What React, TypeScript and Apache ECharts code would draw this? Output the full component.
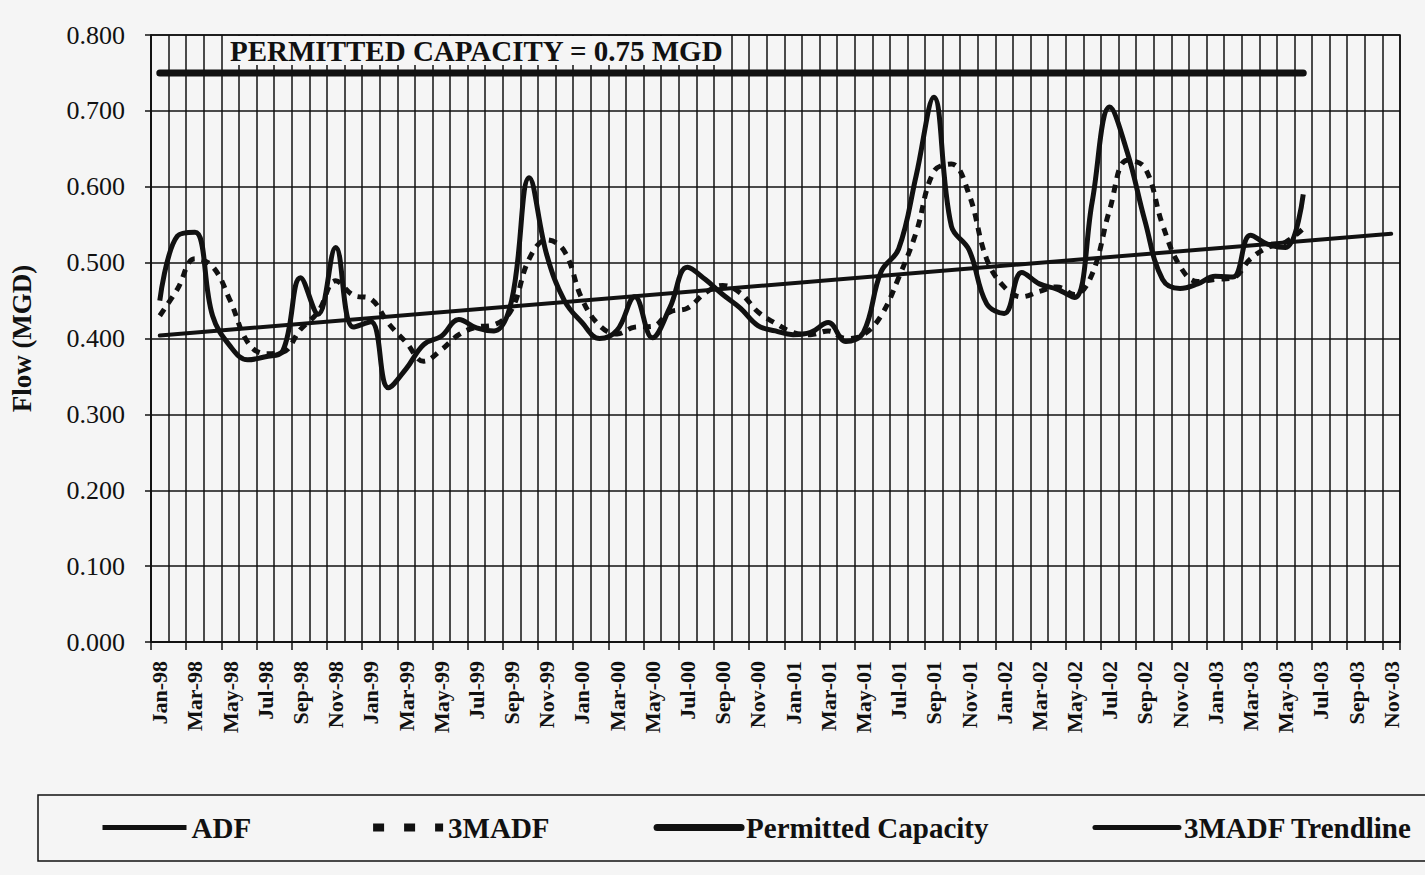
import React, { useEffect, useRef } from "react";
import * as echarts from "echarts";

const MONTH_NAMES = ["Jan", "Feb", "Mar", "Apr", "May", "Jun", "Jul", "Aug", "Sep", "Oct", "Nov", "Dec"];
const YEARS = ["98", "99", "00", "01", "02", "03"];
const categories: string[] = YEARS.flatMap((y) => MONTH_NAMES.map((m) => `${m}-${y}`)).slice(0, 71);

const adf = [
  0.45, 0.535, 0.54, 0.43, 0.39, 0.372, 0.376, 0.384, 0.48, 0.432, 0.52, 0.415,
  0.422, 0.335, 0.36, 0.392, 0.403, 0.425, 0.414, 0.41, 0.45, 0.612, 0.51, 0.45,
  0.421, 0.4, 0.411, 0.455, 0.401, 0.441, 0.494, 0.478, 0.458, 0.44, 0.417, 0.41,
  0.405, 0.408, 0.421, 0.396, 0.408, 0.488, 0.518, 0.615, 0.718, 0.548, 0.517, 0.446,
  0.433, 0.487, 0.472, 0.465, 0.454, 0.58, 0.705, 0.645, 0.555, 0.478, 0.466, 0.472,
  0.482, 0.481, 0.536, 0.524, 0.52, 0.59,
];

const madf3 = [
  0.43, 0.465, 0.505, 0.495, 0.45, 0.395, 0.38, 0.382, 0.412, 0.435, 0.476, 0.457,
  0.452, 0.42, 0.395, 0.37, 0.385, 0.405, 0.415, 0.418, 0.438, 0.505, 0.53, 0.515,
  0.452, 0.417, 0.406, 0.415, 0.416, 0.435, 0.44, 0.46, 0.47, 0.46, 0.435, 0.42,
  0.408, 0.405, 0.41, 0.4, 0.405, 0.43, 0.48, 0.54, 0.62, 0.63, 0.59, 0.505,
  0.468, 0.455, 0.462, 0.468, 0.458, 0.485, 0.57, 0.635, 0.625, 0.55, 0.495, 0.475,
  0.478, 0.48, 0.505, 0.52, 0.527, 0.545,
];

// endpoints [category index, value]
const permittedCapacity = [
  [0, 0.75],
  [65, 0.75],
];
const trendline = [
  [0, 0.404],
  [70, 0.538],
];

const yTicks = { min: 0, max: 0.8, interval: 0.1 };

const SERIF = '"Liberation Serif", "Times New Roman", serif';
const INK = "#111";
const BG = "#f5f5f5";

export default function App() {
  const ref = useRef<HTMLDivElement>(null);

  useEffect(() => {
    if (!ref.current) return;
    const chart = echarts.init(ref.current, undefined, { renderer: "svg" });
    chart.setOption({
      animation: false,
      backgroundColor: BG,
      grid: {
        left: 145,
        right: 25,
        top: 35,
        bottom: 233,
        show: true,
        borderColor: INK,
        borderWidth: 1.5,
      },
      xAxis: {
        type: "category",
        data: categories,
        boundaryGap: true,
        axisLine: { show: true, lineStyle: { color: INK, width: 1.5 } },
        axisTick: { show: true, interval: 1, length: 8, lineStyle: { color: INK, width: 1.5 } },
        axisLabel: {
          interval: 1,
          rotate: 90,
          margin: 19,
          fontFamily: SERIF,
          fontWeight: "bold",
          fontSize: 22,
          color: INK,
        },
        splitLine: { show: true, interval: 0, lineStyle: { color: INK, width: 1.5 } },
      },
      yAxis: {
        type: "value",
        min: yTicks.min,
        max: yTicks.max,
        interval: yTicks.interval,
        name: "Flow (MGD)",
        nameLocation: "middle",
        nameGap: 116,
        nameTextStyle: { fontFamily: SERIF, fontWeight: "bold", fontSize: 27, color: INK },
        axisLine: { show: true, lineStyle: { color: INK, width: 1.5 } },
        axisTick: { show: true, length: 6, lineStyle: { color: INK, width: 1.5 } },
        axisLabel: {
          formatter: (v: number) => v.toFixed(3),
          margin: 26,
          fontFamily: SERIF,
          fontSize: 26,
          color: INK,
        },
        splitLine: { show: true, lineStyle: { color: INK, width: 1.5 } },
      },
      legend: {
        left: 95,
        top: 808,
        itemWidth: 84,
        itemHeight: 14,
        itemGap: 104,
        itemStyle: { opacity: 0 },
        textStyle: { fontFamily: SERIF, fontWeight: "bold", fontSize: 29, color: INK },
        data: [
          { name: "ADF", lineStyle: { width: 5 } },
          { name: "3MADF", lineStyle: { type: [11, 20], dashOffset: -14, width: 8, cap: "butt" } },
          { name: "Permitted Capacity", lineStyle: { width: 7 } },
          { name: "3MADF Trendline", lineStyle: { width: 5 } },
        ],
      },
      graphic: [
        {
          type: "rect",
          z: 10,
          shape: { x: 38, y: 795, width: 1420, height: 66 },
          style: { fill: "none", stroke: INK, lineWidth: 1.5 },
        },
        {
          type: "text",
          z: 100,
          left: 226,
          top: 36,
          style: {
            text: "PERMITTED CAPACITY = 0.75 MGD",
            font: `bold 29px ${SERIF}`,
            fill: INK,
            backgroundColor: BG,
            padding: [0, 4, 0, 4],
          },
        },
      ],
      series: [
        {
          name: "ADF",
          type: "line",
          data: adf,
          smooth: 0.4,
          symbol: "none",
          lineStyle: { color: INK, width: 5 },
          itemStyle: { color: INK },
          z: 5,
        },
        {
          name: "3MADF",
          type: "line",
          data: madf3,
          smooth: 0.4,
          symbol: "none",
          lineStyle: { color: INK, width: 5, type: [8, 7], cap: "butt" },
          itemStyle: { color: INK },
          z: 4,
        },
        {
          name: "Permitted Capacity",
          type: "line",
          data: permittedCapacity,
          symbol: "none",
          lineStyle: { color: INK, width: 7, cap: "round" },
          itemStyle: { color: INK },
          z: 3,
        },
        {
          name: "3MADF Trendline",
          type: "line",
          data: trendline,
          symbol: "none",
          lineStyle: { color: INK, width: 4, cap: "round" },
          itemStyle: { color: INK },
          z: 3,
        },
      ],
    });
    return () => chart.dispose();
  }, []);

  return (
    <div
      ref={ref}
      style={{ position: "fixed", left: 0, top: 0, width: 1425, height: 875, background: BG }}
    />
  );
}
